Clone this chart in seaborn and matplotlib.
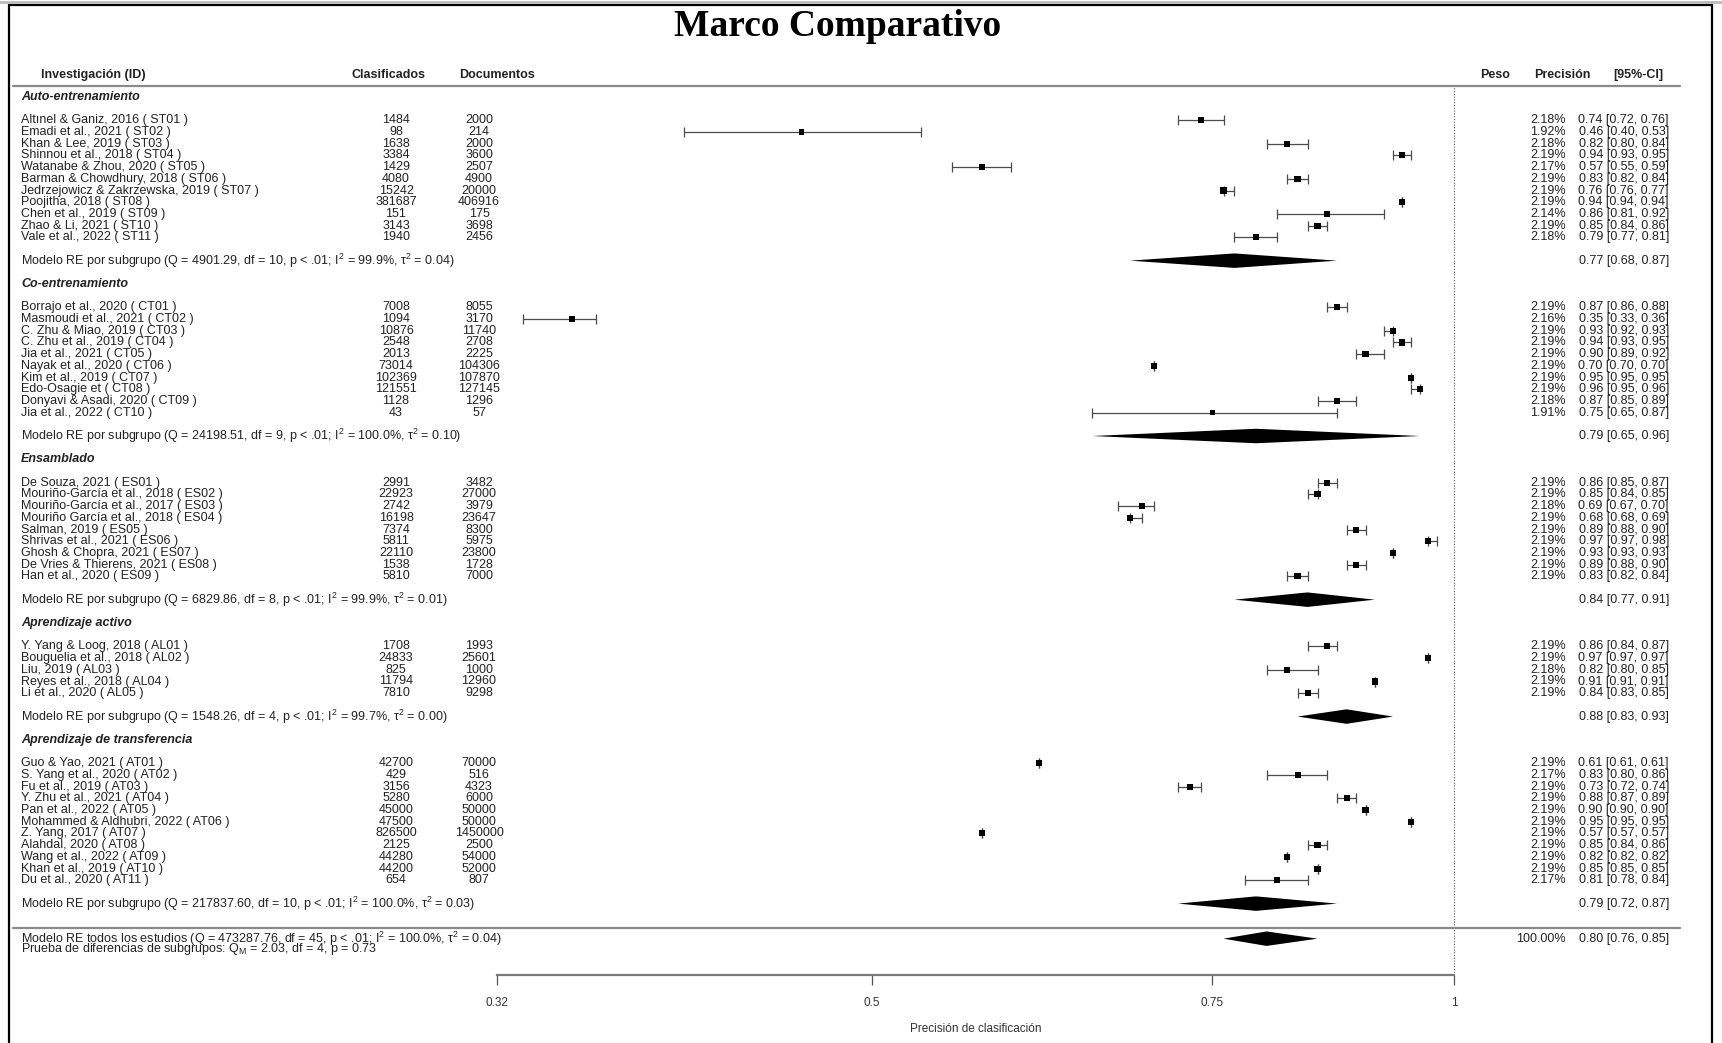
import numpy as np
import pandas as pd
import matplotlib
matplotlib.use("Agg")
import matplotlib.pyplot as plt
import matplotlib.transforms as mtransforms
from matplotlib.lines import Line2D
from matplotlib.patches import Rectangle
from matplotlib.ticker import NullLocator, FixedLocator, FixedFormatter
import seaborn as sns

# ==========================================
# Data
# ==========================================
grupos = ["Auto-entrenamiento", "Co-entrenamiento", "Ensamblado",
          "Aprendizaje activo", "Aprendizaje de transferencia"]
n_por_grupo = [11, 10, 9, 5, 11]

estudios = [
    # Auto-entrenamiento
    "Altınel & Ganiz, 2016 ( ST01 )", "Emadi et al., 2021 ( ST02 )", "Khan & Lee, 2019 ( ST03 )",
    "Shinnou et al., 2018 ( ST04 )", "Watanabe & Zhou, 2020 ( ST05 )", "Barman & Chowdhury, 2018 ( ST06 )",
    "Jedrzejowicz & Zakrzewska, 2019 ( ST07 )", "Poojitha, 2018 ( ST08 )", "Chen et al., 2019 ( ST09 )",
    "Zhao & Li, 2021 ( ST10 )", "Vale et al., 2022 ( ST11 )",
    # Co-entrenamiento
    "Borrajo et al., 2020 ( CT01 )", "Masmoudi et al., 2021 ( CT02 )", "C. Zhu & Miao, 2019 ( CT03 )",
    "C. Zhu et al., 2019 ( CT04 )", "Jia et al., 2021 ( CT05 )", "Nayak et al., 2020 ( CT06 )",
    "Kim et al., 2019 ( CT07 )", "Edo-Osagie et ( CT08 )", "Donyavi & Asadi, 2020 ( CT09 )",
    "Jia et al., 2022 ( CT10 )",
    # Ensamblado
    "De Souza, 2021 ( ES01 )", "Mouriño-García et al., 2018 ( ES02 )", "Mouriño-García et al., 2017 ( ES03 )",
    "Mouriño García et al., 2018 ( ES04 )", "Salman, 2019 ( ES05 )", "Shrivas et al., 2021 ( ES06 )",
    "Ghosh & Chopra, 2021 ( ES07 )", "De Vries & Thierens, 2021 ( ES08 )", "Han et al., 2020 ( ES09 )",
    # Aprendizaje activo
    "Y. Yang & Loog, 2018 ( AL01 )", "Bouguelia et al., 2018 ( AL02 )", "Liu, 2019 ( AL03 )",
    "Reyes et al., 2018 ( AL04 )", "Li et al., 2020 ( AL05 )",
    # Aprendizaje de transferencia
    "Guo & Yao, 2021 ( AT01 )", "S. Yang et al., 2020 ( AT02 )", "Fu et al., 2019 ( AT03 )",
    "Y. Zhu et al., 2021 ( AT04 )", "Pan et al., 2022 ( AT05 )", "Mohammed & Aldhubri, 2022 ( AT06 )",
    "Z. Yang, 2017 ( AT07 )", "Alahdal, 2020 ( AT08 )", "Wang et al., 2022 ( AT09 )",
    "Khan et al., 2019 ( AT10 )", "Du et al., 2020 ( AT11 )",
]
clasificados = [1484, 98, 1638, 3384, 1429, 4080, 15242, 381687, 151, 3143, 1940,
                7008, 1094, 10876, 2548, 2013, 73014, 102369, 121551, 1128, 43,
                2991, 22923, 2742, 16198, 7374, 5811, 22110, 1538, 5810,
                1708, 24833, 825, 11794, 7810,
                42700, 429, 3156, 5280, 45000, 47500, 826500, 2125, 44280, 44200, 654]
documentos = [2000, 214, 2000, 3600, 2507, 4900, 20000, 406916, 175, 3698, 2456,
              8055, 3170, 11740, 2708, 2225, 104306, 107870, 127145, 1296, 57,
              3482, 27000, 3979, 23647, 8300, 5975, 23800, 1728, 7000,
              1993, 25601, 1000, 12960, 9298,
              70000, 516, 4323, 6000, 50000, 50000, 1450000, 2500, 54000, 52000, 807]
peso = [2.18, 1.92, 2.18, 2.19, 2.17, 2.19, 2.19, 2.19, 2.14, 2.19, 2.18,
        2.19, 2.16, 2.19, 2.19, 2.19, 2.19, 2.19, 2.19, 2.18, 1.91,
        2.19, 2.19, 2.18, 2.19, 2.19, 2.19, 2.19, 2.19, 2.19,
        2.19, 2.19, 2.18, 2.19, 2.19,
        2.19, 2.17, 2.19, 2.19, 2.19, 2.19, 2.19, 2.19, 2.19, 2.19, 2.17]
precision = [0.74, 0.46, 0.82, 0.94, 0.57, 0.83, 0.76, 0.94, 0.86, 0.85, 0.79,
             0.87, 0.35, 0.93, 0.94, 0.90, 0.70, 0.95, 0.96, 0.87, 0.75,
             0.86, 0.85, 0.69, 0.68, 0.89, 0.97, 0.93, 0.89, 0.83,
             0.86, 0.97, 0.82, 0.91, 0.84,
             0.61, 0.83, 0.73, 0.88, 0.90, 0.95, 0.57, 0.85, 0.82, 0.85, 0.81]
ci_inf = [0.72, 0.40, 0.80, 0.93, 0.55, 0.82, 0.76, 0.94, 0.81, 0.84, 0.77,
          0.86, 0.33, 0.92, 0.93, 0.89, 0.70, 0.95, 0.95, 0.85, 0.65,
          0.85, 0.84, 0.67, 0.68, 0.88, 0.97, 0.93, 0.88, 0.82,
          0.84, 0.97, 0.80, 0.91, 0.83,
          0.61, 0.80, 0.72, 0.87, 0.90, 0.95, 0.57, 0.84, 0.82, 0.85, 0.78]
ci_sup = [0.76, 0.53, 0.84, 0.95, 0.59, 0.84, 0.77, 0.94, 0.92, 0.86, 0.81,
          0.88, 0.36, 0.93, 0.95, 0.92, 0.70, 0.95, 0.96, 0.89, 0.87,
          0.87, 0.85, 0.70, 0.69, 0.90, 0.98, 0.93, 0.90, 0.84,
          0.87, 0.97, 0.85, 0.91, 0.85,
          0.61, 0.86, 0.74, 0.89, 0.90, 0.95, 0.57, 0.86, 0.82, 0.85, 0.84]

# subgroup random-effects summaries
sub_q = [4901.29, 24198.51, 6829.86, 1548.26, 217837.60]
sub_df = [10, 9, 8, 4, 10]
sub_i2 = [99.9, 100.0, 99.9, 99.7, 100.0]
sub_tau2 = [0.04, 0.10, 0.01, 0.00, 0.03]
sub_est = [0.77, 0.79, 0.84, 0.88, 0.79]
sub_inf = [0.68, 0.65, 0.77, 0.83, 0.72]
sub_sup = [0.87, 0.96, 0.91, 0.93, 0.87]

# overall model
total_q, total_df, total_i2, total_tau2 = 473287.76, 45, 100.0, 0.04
total_est, total_inf, total_sup = 0.80, 0.76, 0.85
qm, qm_df, qm_p = 2.03, 4, 0.73

ticks_x = [0.32, 0.5, 0.75, 1.0]
tick_labels = ["0.32", "0.5", "0.75", "1"]

# ==========================================
# Layout (pixel geometry of the 1722x1043 canvas)
# ==========================================
W, H = 1722, 1043
ROW0, ROW_H = 97.0, 11.69
AX_L, AX_R, AX_T, AX_B = 497, 1454, 85.5, 975


def row_of(px):
    return (px - ROW0) / ROW_H


def fx(px):
    return px / W


# assign row numbers: header, blank, studies, blank, model, blank
filas_estudio, filas_grupo, filas_modelo = [], [], []
r = 0
for n in n_por_grupo:
    filas_grupo.append(r)
    filas_estudio.extend(range(r + 2, r + 2 + n))
    filas_modelo.append(r + 2 + n + 1)
    r = r + 2 + n + 1 + 2
fila_sep = 71.1
fila_total = 72.0
fila_prueba = 72.85

df = pd.DataFrame({
    "estudio": estudios, "clas": clasificados, "docs": documentos,
    "peso": peso, "prec": precision, "lo": ci_inf, "hi": ci_sup,
    "fila": filas_estudio,
})

# ==========================================
# Figure
# ==========================================
sns.set_theme(style="white")
plt.rcParams["font.family"] = ["Liberation Sans", "DejaVu Sans"]
plt.rcParams["mathtext.default"] = "regular"

fig = plt.figure(figsize=(W / 100, H / 100), dpi=100)
ax = fig.add_axes([fx(AX_L), 1 - AX_B / H, (AX_R - AX_L) / W, (AX_B - AX_T) / H])
ax.set_xscale("log")

# CI whiskers + weighted squares
ax.errorbar(df["prec"], df["fila"],
            xerr=[np.clip(df["prec"] - df["lo"], 0, None), np.clip(df["hi"] - df["prec"], 0, None)],
            fmt="none", ecolor="#4a4a4a", elinewidth=0.9, capsize=3.8, capthick=0.9, zorder=2)
sns.scatterplot(data=df, x="prec", y="fila", size="peso", sizes=(14, 19), marker="s",
                color="black", edgecolor="none", linewidth=0, legend=False, ax=ax, zorder=3)

# diamonds
dh = 0.62
for est, lo, hi, fila in zip(sub_est + [total_est], sub_inf + [total_inf],
                             sub_sup + [total_sup], filas_modelo + [fila_total]):
    ax.fill([lo, est, hi, est], [fila, fila - dh, fila, fila + dh], color="black", lw=0, zorder=3)

ax.axvline(1.0, color="#555555", ls=(0, (1, 1.5)), lw=0.8, clip_on=False, zorder=1)

ax.set_xlim(0.32, 1.0)
ax.set_ylim(row_of(AX_B), row_of(AX_T))
ax.xaxis.set_major_locator(FixedLocator(ticks_x))
ax.xaxis.set_major_formatter(FixedFormatter(tick_labels))
ax.xaxis.set_minor_locator(NullLocator())
ax.tick_params(axis="x", bottom=True, direction="out", length=7, width=0.9, color="#555555",
               pad=9, labelsize=8.5, labelcolor="#333333")
ax.tick_params(axis="y", left=False, labelleft=False)
for s in ["top", "left", "right"]:
    ax.spines[s].set_visible(False)
ax.spines["bottom"].set_color("#7a7a7a")
ax.spines["bottom"].set_linewidth(1.6)
ax.set_xlabel("Precisión de clasificación", fontsize=8.5, labelpad=10, color="#333333")
ax.set_ylabel("")
ax.set_facecolor("none")

# ==========================================
# Text columns
# ==========================================
tr = mtransforms.blended_transform_factory(fig.transFigure, ax.transData)
FS = 9
TXT = "#222222"

hdr_row = -1.9
ax.text(fx(41), hdr_row, "Investigación (ID)", transform=tr, fontsize=FS, weight="bold", va="center", color=TXT)
ax.text(fx(388), hdr_row, "Clasificados", transform=tr, fontsize=FS, weight="bold", va="center", ha="center", color=TXT)
ax.text(fx(497), hdr_row, "Documentos", transform=tr, fontsize=FS, weight="bold", va="center", ha="center", color=TXT)
ax.text(fx(1495), hdr_row, "Peso", transform=tr, fontsize=FS, weight="bold", va="center", ha="center", color=TXT)
ax.text(fx(1562), hdr_row, "Precisión", transform=tr, fontsize=FS, weight="bold", va="center", ha="center", color=TXT)
ax.text(fx(1638), hdr_row, "[95%-CI]", transform=tr, fontsize=FS, weight="bold", va="center", ha="center", color=TXT)

for g, fila in zip(grupos, filas_grupo):
    ax.text(fx(21), fila, g, transform=tr, fontsize=FS, weight="bold", style="italic", va="center", color=TXT)

for _, s in df.iterrows():
    ax.text(fx(21), s["fila"], s["estudio"], transform=tr, fontsize=FS, va="center", color=TXT)
    ax.text(fx(396), s["fila"], f"{s['clas']}", transform=tr, fontsize=FS, va="center", ha="center", color=TXT)
    ax.text(fx(479), s["fila"], f"{s['docs']}", transform=tr, fontsize=FS, va="center", ha="center", color=TXT)
    ax.text(fx(1566), s["fila"], f"{s['peso']:.2f}%", transform=tr, fontsize=FS, va="center", ha="right", color=TXT)
    ax.text(fx(1669), s["fila"], f"{s['prec']:.2f} [{s['lo']:.2f}, {s['hi']:.2f}]", transform=tr,
            fontsize=FS, va="center", ha="right", color=TXT)

for i, fila in enumerate(filas_modelo):
    lab = (f"Modelo RE por subgrupo (Q = {sub_q[i]:.2f}, df = {sub_df[i]}, p < .01; "
           f"I$^2$ = {sub_i2[i]:.1f}%, $\\tau^2$ = {sub_tau2[i]:.2f})")
    ax.text(fx(21), fila, lab, transform=tr, fontsize=FS, va="center", color=TXT)
    ax.text(fx(1669), fila, f"{sub_est[i]:.2f} [{sub_inf[i]:.2f}, {sub_sup[i]:.2f}]", transform=tr,
            fontsize=FS, va="center", ha="right", color=TXT)

ax.text(fx(21), fila_total,
        f"Modelo RE todos los estudios (Q = {total_q:.2f}, df = {total_df}, p < .01; "
        f"I$^2$ = {total_i2:.1f}%, $\\tau^2$ = {total_tau2:.2f})",
        transform=tr, fontsize=FS, va="center", color=TXT)
ax.text(fx(21), fila_prueba,
        f"Prueba de diferencias de subgrupos: Q$_M$ = {qm:.2f}, df = {qm_df}, p = {qm_p:.2f}",
        transform=tr, fontsize=FS, va="center", color=TXT)
ax.text(fx(1566), fila_total, "100.00%", transform=tr, fontsize=FS, va="center", ha="right", color=TXT)
ax.text(fx(1669), fila_total, f"{total_est:.2f} [{total_inf:.2f}, {total_sup:.2f}]", transform=tr,
        fontsize=FS, va="center", ha="right", color=TXT)

# separators
for ypx in [AX_T, ROW0 + fila_sep * ROW_H]:
    fig.add_artist(Line2D([fx(13), fx(1680)], [1 - ypx / H, 1 - ypx / H],
                          transform=fig.transFigure, color="#8a8a8a", lw=1.6))

# title
fig.text(fx(838), 1 - 27 / H, "Marco Comparativo", ha="center", va="center",
         fontsize=27, weight="bold", family=["Liberation Serif", "DejaVu Serif"], color="black")

# window frame
fig.add_artist(Line2D([0, 1], [1 - 1.5 / H, 1 - 1.5 / H], transform=fig.transFigure, color="#bbbbbb", lw=2))
fig.add_artist(Rectangle((fx(8.5), -0.05), fx(1711.5 - 8.5), 1.05 - 4.6 / H, transform=fig.transFigure,
                         fill=False, edgecolor="black", lw=1.6))

fig.savefig("out.png", dpi=100)
plt.close(fig)
